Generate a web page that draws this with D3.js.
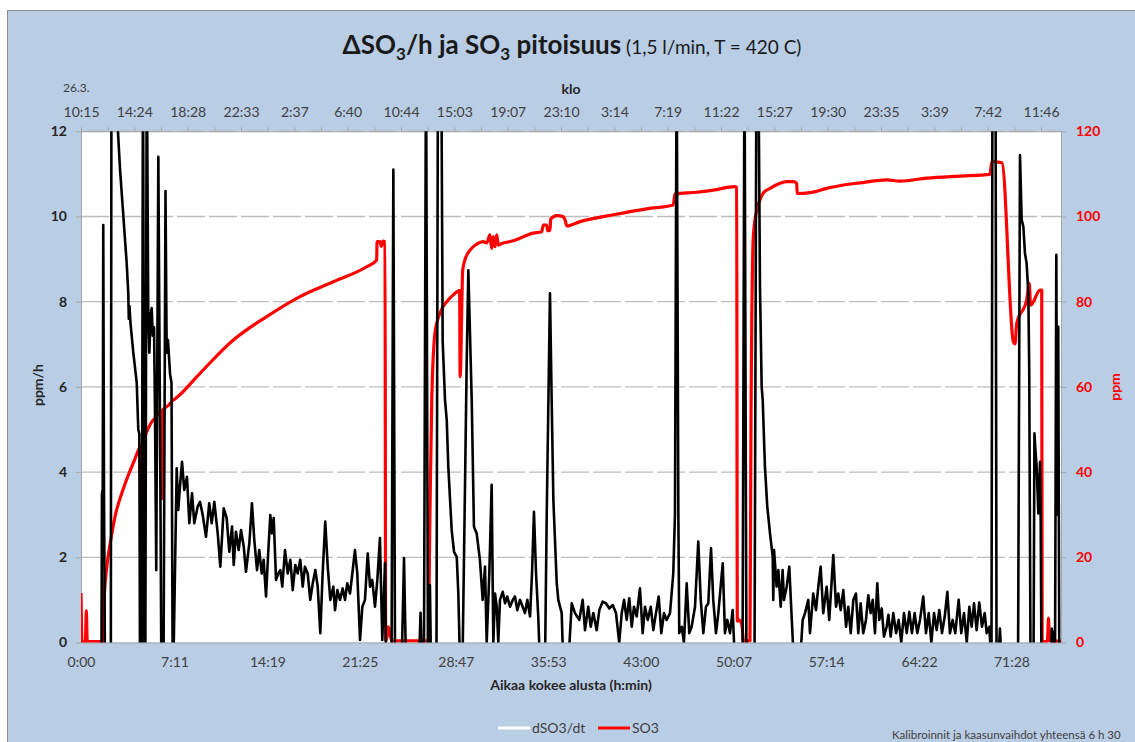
<!DOCTYPE html>
<html>
<head>
<meta charset="utf-8">
<script src="https://cdn.jsdelivr.net/npm/d3@7"></script>
<style>
  body { margin: 0; background: #fff; }
  svg { display: block; font-family: Lato, "Open Sans", sans-serif; }
</style>
</head>
<body>
<div class="grafico"></div>
<script>
// x axis labels (time since start, h:min) and clock labels on top
const bottomLabels = ["0:00", "7:11", "14:19", "21:25", "28:47", "35:53", "43:00", "50:07", "57:14", "64:22", "71:28"];
const topLabels = ["10:15", "14:24", "18:28", "22:33", "2:37", "6:40", "10:44", "15:03", "19:07", "23:10",
    "3:14", "7:19", "11:22", "15:27", "19:30", "23:35", "3:39", "7:42", "11:46"];
const leftTicks = [0, 2, 4, 6, 8, 10, 12];
const rightTicks = [0, 20, 40, 60, 80, 100, 120];

// SO3 concentration [hours, ppm]
const so3 = [
    [0, 11.6], [0.08, 0.2], [0.34, 0.2], [0.41, 7.5], [0.48, 0.2], [1.66, 0.2], [1.80, 11.5], [1.99, 18],
    [2.23, 23], [2.61, 29.5], [3.30, 36.5], [4.07, 42.5], [4.60, 46], [4.62, 13.5], [4.65, 46.2], [4.86, 48],
    [5.43, 51.8], [5.61, 52.4], [6.18, 54.3], [6.21, 33.8], [6.25, 54.5], [6.69, 55.6], [7.09, 56.9],
    [7.35, 57.5], [9.14, 63.2], [11.70, 71.0], [14.26, 76.5], [16.82, 81.2], [19.38, 84.7], [21.94, 88.2],
    [22.71, 89.8], [22.74, 94.1], [22.96, 94.1], [23.07, 93.0], [23.18, 94.2], [23.35, 94.1], [23.40, 0.5],
    [23.46, 0.5], [23.60, 3.7], [23.73, 2.0], [23.89, 0.4], [26.67, 0.4], [26.80, 30], [26.94, 56.9],
    [27.19, 72.7], [27.57, 77.3], [28.09, 80.0], [28.59, 81.6], [29.08, 82.6], [29.12, 62.4], [29.32, 87.4],
    [29.49, 89.8], [29.88, 92.1], [30.39, 93.5], [30.90, 94.1], [31.16, 93.8], [31.41, 95.7], [31.54, 92.5],
    [31.67, 95.3], [31.80, 92.9], [31.93, 95.7], [32.05, 93.3], [32.18, 93.5], [33.20, 94.3], [34.74, 96.1],
    [35.38, 96.4], [35.51, 98.0], [35.77, 98.0], [35.84, 96.7], [36.02, 96.8], [36.08, 99.4], [36.54, 100.2],
    [37.00, 100.0], [37.20, 99.0], [37.30, 97.8], [38.33, 98.8], [40.88, 100.4], [43.45, 101.8],
    [45.49, 102.7], [45.62, 105.3], [47.29, 105.7], [48.56, 106.2], [50.23, 107.0], [50.36, 106.8],
    [50.41, 5.0], [50.54, 5.3], [50.77, 4.0], [50.88, 0.4], [51.38, 0.4], [51.46, 52], [51.64, 95.3],
    [51.90, 101.5], [52.15, 103.9], [52.40, 105.5], [52.92, 106.6], [53.69, 107.8], [54.20, 108.2],
    [54.71, 108.2], [54.97, 107.8], [55.01, 105.4], [55.99, 105.6], [57.27, 106.6], [58.55, 107.4],
    [59.83, 107.9], [61.11, 108.4], [61.88, 108.6], [62.90, 108.3], [64.95, 109.0], [67.51, 109.5],
    [69.82, 109.9], [69.95, 112.9], [70.58, 112.7], [70.74, 112.6], [71.61, 70.6], [71.74, 70.1],
    [71.87, 74.9], [72.63, 80.4], [72.83, 84.3], [72.94, 79.2], [73.66, 82.7], [73.79, 82.7], [73.82, 0.5],
    [74.04, 0.2], [74.23, 0.3], [74.31, 5.7], [74.38, 0.5], [74.58, 0.3], [75.27, 0.3]
];

// dSO3/dt [hours, ppm/h]; values outside 0..12 run off the plot
const dso3 = [
    [0, -0.5], [1.57, -0.5], [1.61, 3.5], [1.67, 3.6], [1.71, 9.8], [1.77, 3.3], [1.84, -0.5],
    [2.29, -0.5], [2.34, 14], [2.73, 12.6], [3.00, 11.1], [3.51, 8.9], [3.63, 8.2], [3.67, 7.6], [3.72, 7.9],
    [3.80, 7.5], [4.02, 6.8], [4.28, 6.1], [4.40, 5.0], [4.48, 4.9], [4.53, -0.5],
    [4.67, -0.5], [4.76, 14], [4.88, -0.5], [4.94, -0.5], [5.05, 14], [5.17, 7.6], [5.25, 6.8], [5.35, 7.7],
    [5.43, 7.85], [5.51, 7.2], [5.61, 7.4], [5.68, 5.5], [5.78, 1.7], [5.85, 6.0], [5.94, 11.4], [6.09, 4.0],
    [6.17, -0.5], [6.34, -0.5], [6.49, 10.6], [6.58, 6.8], [6.68, 7.1], [6.84, 6.3], [6.95, 6.1],
    [7.04, -0.5], [7.10, -0.5],
    [7.35, 4.09], [7.47, 3.11], [7.60, 3.66], [7.76, 4.24], [7.93, 3.58], [8.14, 3.89], [8.32, 2.80],
    [8.53, 3.50], [8.70, 2.80], [8.96, 3.19], [9.14, 3.30], [9.35, 2.99], [9.60, 2.48], [9.85, 3.27],
    [10.04, 2.80], [10.24, 3.30], [10.50, 2.56], [10.70, 1.78], [10.96, 3.15], [11.19, 2.92], [11.39, 2.13],
    [11.60, 2.72], [11.73, 1.82], [11.90, 2.60], [12.11, 2.17], [12.29, 2.64], [12.50, 2.25], [12.67, 1.66],
    [12.93, 2.33], [13.13, 3.27], [13.31, 2.41], [13.52, 1.70], [13.69, 2.17], [13.88, 1.62], [14.03, 1.94],
    [14.21, 1.08], [14.39, 2.17], [14.54, 2.99], [14.67, 2.56], [14.80, 2.92], [14.98, 1.47], [15.15, 1.62],
    [15.31, 1.70], [15.46, 1.31], [15.67, 2.17], [15.88, 1.62], [16.08, 1.94], [16.26, 1.23], [16.46, 1.82],
    [16.64, 1.62], [16.84, 1.94], [17.03, 1.31], [17.20, 1.78], [17.41, 1.62], [17.61, 1.00], [17.80, 1.39],
    [18.00, 1.70], [18.18, 1.31], [18.38, 0.22], [18.56, 1.62], [18.76, 2.84], [18.95, 1.78], [19.15, 1.00],
    [19.38, 1.31], [19.51, 0.76], [19.69, 1.23], [19.89, 1.00], [20.10, 1.27], [20.28, 1.00], [20.45, 1.39],
    [20.66, 1.15], [20.84, 1.62], [21.04, 2.17], [21.22, 1.62], [21.43, 0.06], [21.61, 0.84], [21.81, 1.00],
    [22.02, 2.09], [22.20, 1.31], [22.37, 1.47], [22.58, 0.84], [22.76, 1.47], [22.96, 2.45], [23.14, 0.06],
    [23.35, 1.86], [23.43, -0.5],
    [23.85, -0.5], [23.99, 11.1], [24.12, -0.5], [24.63, -0.5], [24.81, 1.98], [24.96, -0.5], [25.96, -0.5],
    [26.08, 0.7], [26.19, -0.5], [26.34, -0.5], [26.50, 14], [26.65, -0.5], [26.75, -0.5], [26.80, 1.35],
    [26.88, -0.5], [27.30, -0.5], [27.42, 14], [27.57, 14], [27.70, 12], [27.78, 7.06], [27.96, 5.69],
    [28.09, 5.22], [28.21, 4.13], [28.47, 2.64], [28.65, 2.13], [28.86, 2.01], [28.98, 1.15], [29.11, -0.5],
    [29.30, -0.5], [29.49, 3.58], [29.62, 6.5], [29.75, 8.74], [30.01, 5.69], [30.18, 2.72], [30.39, 2.56],
    [30.64, 1.94], [30.85, 1.00], [31.03, 1.78], [31.16, 0], [31.36, 1.62], [31.54, 3.70], [31.67, 0],
    [31.80, 1.15], [31.93, 0.84], [32.05, 0], [32.18, 1.00], [32.39, 1.19], [32.57, 0.92], [32.74, 1.08],
    [32.95, 0.84], [33.16, 1.00], [33.33, 1.08], [33.51, 0.76], [33.72, 1.00], [33.92, 0.84], [34.10, 0.69],
    [34.28, 1.00], [34.49, 0.61], [34.64, 1.62], [34.79, 3.07], [34.95, 1.62], [35.12, 0.61], [35.25, -0.5],
    [35.64, -0.5], [35.77, 3], [36.02, 8.2], [36.15, 5.69], [36.28, 3.35], [36.54, 1.39], [36.66, 1.0],
    [36.92, 0.69], [37.04, -0.5], [37.43, -0.5], [37.69, 0.92], [37.94, 0.69], [38.27, 0.53], [38.53, 1.0],
    [38.71, 0.29], [38.96, 0.84], [39.15, 0.37], [39.35, 0.69], [39.61, 0.29], [39.81, 0.76], [40.07, 0.96],
    [40.32, 0.92], [40.58, 0.80], [40.84, 0.88], [41.09, 0.69], [41.34, 0], [41.53, 0.69], [41.71, 1.0],
    [41.91, 0.53], [42.11, 1.04], [42.30, 0.37], [42.47, 0.84], [42.68, 0.61], [42.93, 1.27], [43.14, 0.22],
    [43.32, 0.84], [43.53, 0.53], [43.76, 0.84], [43.96, 0.29], [44.16, 0.69], [44.37, 1.08], [44.57, 0.22],
    [44.78, 0.69], [44.98, 0.53], [45.24, 0.69], [45.49, 1.62], [45.62, 3], [45.75, 14], [45.88, 3],
    [45.95, 0.22], [46.14, 0.37], [46.31, 0], [46.52, 1.39], [46.72, 0.22], [46.90, 0.37], [47.16, 0.84],
    [47.41, 2.37], [47.60, 1.0], [47.80, 0.22], [48.00, 0.84], [48.18, 0.92], [48.39, 2.21], [48.56, 1.0],
    [48.77, 0.22], [48.95, 0.69], [49.13, 1.31], [49.29, 1.86], [49.46, 0.22], [49.64, 0.53], [49.85, 0.22],
    [50.05, 0.76], [50.23, -0.5], [50.81, -0.5], [50.96, 14], [51.11, -0.5], [51.73, -0.5], [51.88, 14],
    [52.02, 14], [52.15, 8.35], [52.28, 6.0], [52.36, 5.69], [52.53, 4.13], [52.71, 3.19], [52.92, 2.56],
    [53.13, 2.01], [53.17, 1.0], [53.23, 2.17], [53.43, 1.31], [53.56, 1.70], [53.74, 0.84], [53.89, 1.70],
    [53.99, 1.0], [54.20, 1.31], [54.40, 1.78], [54.58, 0.61], [54.76, -0.5], [55.22, -0.5], [55.43, 0.53],
    [55.61, 0.69], [55.86, 1.0], [55.99, 0.22], [56.24, 1.15], [56.45, 0.76], [56.63, 1.31], [56.81, 1.78],
    [57.01, 0.69], [57.27, 1.31], [57.47, 0.53], [57.78, 2.05], [57.99, 0.84], [58.16, 1.15], [58.35, 0.76],
    [58.55, 1.23], [58.76, 0.37], [58.93, 0.84], [59.12, 0.22], [59.32, 1.0], [59.52, 1.15], [59.70, 0.22],
    [59.88, 0.92], [60.08, 0.22], [60.29, 0.53], [60.47, 1.11], [60.65, 0.69], [60.81, 1.0], [60.98, 0.22],
    [61.16, 1.39], [61.31, 0.53], [61.50, 0.80], [61.67, 0.14], [61.88, 0.37], [62.01, 0.65], [62.19, 0.14],
    [62.39, 0.69], [62.60, 0.22], [62.80, 0.53], [63.00, 0], [63.21, 0.69], [63.42, 0.22], [63.62, 0.72],
    [63.82, 0.22], [64.03, 0.69], [64.23, 0.22], [64.44, 0.53], [64.69, 1.08], [64.90, 0.22], [65.11, 0.69],
    [65.31, 0], [65.52, 0.69], [65.72, 0.29], [65.92, 0.76], [66.13, 0.22], [66.34, 0.61], [66.54, 1.19],
    [66.74, 0.22], [66.95, 0.53], [67.15, 0.22], [67.41, 1.0], [67.61, 0.22], [67.82, 0.69], [68.03, 0],
    [68.23, 0.84], [68.41, 0.37], [68.59, 0.92], [68.79, 0.29], [68.99, 0.94], [69.20, 0.37], [69.41, 0.69],
    [69.56, 0.22], [69.76, 0.37], [69.93, -0.5], [70.01, 14], [70.24, 14], [70.32, -0.5], [70.45, -0.5],
    [70.58, 0.33], [70.71, -0.5], [71.97, -0.5], [72.12, 11.44], [72.25, 9.92], [72.38, 9.76], [72.50, 9.14],
    [72.63, 8.90], [72.76, 8.20], [72.83, 6.40], [72.93, -0.5], [73.16, -0.5], [73.23, 4.91], [73.31, 4.5],
    [73.40, 4.13], [73.53, 3.03], [73.66, 4.24], [73.71, 2.88], [73.77, -0.5], [74.50, -0.5], [74.56, 0.33],
    [74.65, 0.2], [74.81, -0.5], [74.91, 9.1], [74.98, 3], [75.06, 7.41], [75.14, -0.5], [75.27, -0.5]
];

const width = 1135, height = 742;
const plot = { left: 81, right: 1061, top: 131.3, bottom: 642.5 };

const svg = d3.select(".grafico")
    .append("svg")
    .attr("width", width)
    .attr("height", height);

// chart area background
svg.append("rect")
    .attr("x", 7.5).attr("y", 10.5)
    .attr("width", width).attr("height", height)
    .attr("fill", "#b9cde5")
    .attr("stroke", "#8c8c8c");

svg.append("rect")
    .attr("x", plot.left).attr("y", plot.top)
    .attr("width", plot.right - plot.left).attr("height", plot.bottom - plot.top)
    .attr("fill", "#fff");

const toHours = s => { const [h, m] = s.split(":").map(Number); return h + m / 60; };

const x = d3.scaleLinear().domain([0, 75.27]).range([plot.left, plot.right]);
const xTop = d3.scaleLinear().domain([0, 18.375]).range([plot.left, plot.right]);
const yL = d3.scaleLinear().domain([0, 12]).range([plot.bottom, plot.top]);
const yR = d3.scaleLinear().domain([0, 120]).range([plot.bottom, plot.top]);

// gridlines
svg.append("g")
    .selectAll("line")
    .data(leftTicks.slice(1))
    .enter().append("line")
    .attr("x1", plot.left).attr("x2", plot.right)
    .attr("y1", d => yL(d)).attr("y2", d => yL(d))
    .attr("stroke", "#bdbdbd")
    .attr("stroke-width", 1.3)
    .attr("stroke-dasharray", "28,4");

// axes
const gBottom = svg.append("g")
    .attr("transform", `translate(0,${plot.bottom})`)
    .call(d3.axisBottom(x)
        .tickValues(bottomLabels.map(toHours))
        .tickFormat((d, i) => bottomLabels[i])
        .tickSize(0).tickPadding(15));

const gTop = svg.append("g")
    .attr("transform", `translate(0,${plot.top})`)
    .call(d3.axisTop(xTop)
        .tickValues(d3.range(0, 18.01, 0.5))
        .tickFormat(d => Number.isInteger(d) ? topLabels[d] : "")
        .tickSize(4).tickSizeOuter(0).tickPadding(10));

const gLeft = svg.append("g")
    .attr("transform", `translate(${plot.left},0)`)
    .call(d3.axisLeft(yL).tickValues(leftTicks).tickSize(5).tickSizeOuter(0).tickPadding(9));

const gRight = svg.append("g")
    .attr("transform", `translate(${plot.right},0)`)
    .call(d3.axisRight(yR).tickValues(rightTicks).tickSize(5).tickSizeOuter(0).tickPadding(10));

[gBottom, gTop, gLeft, gRight].forEach(g => {
    g.select(".domain").attr("stroke", "#a6a6a6");
    g.selectAll(".tick line").attr("stroke", "#a6a6a6");
    g.selectAll("text").attr("font-family", "Lato, sans-serif").attr("font-size", 14).attr("fill", "#404040");
});
gLeft.selectAll("text").attr("font-weight", "bold").attr("fill", "#262626");
gRight.selectAll("text").attr("font-weight", "bold").attr("fill", "#ff0000");

// series, clipped to the plot area
svg.append("clipPath").attr("id", "clip")
    .append("rect")
    .attr("x", plot.left).attr("y", plot.top)
    .attr("width", plot.right - plot.left).attr("height", plot.bottom - plot.top);

const series = svg.append("g").attr("clip-path", "url(#clip)");

series.append("path")
    .datum(so3)
    .attr("fill", "none")
    .attr("stroke", "#ff0000")
    .attr("stroke-width", 3.2)
    .attr("stroke-linejoin", "round")
    .attr("d", d3.line().curve(d3.curveMonotoneX).x(d => x(d[0])).y(d => yR(d[1])));

series.append("path")
    .datum(dso3)
    .attr("fill", "none")
    .attr("stroke", "#000")
    .attr("stroke-width", 2.6)
    .attr("stroke-linejoin", "round")
    .attr("d", d3.line().x(d => x(d[0])).y(d => yL(d[1])));

// title
const title = svg.append("text")
    .attr("x", 572).attr("y", 54)
    .attr("text-anchor", "middle")
    .attr("fill", "#1a1a1a");
const big = 26, sub = 17;
[["ΔSO", big, 0], ["3", sub, 6], ["/h ja SO", big, -6], ["3", sub, 6], [" pitoisuus", big, -6]]
    .forEach(([t, s, dy]) => title.append("tspan")
        .attr("font-weight", "bold").attr("font-size", s).attr("dy", dy).text(t));
title.append("tspan").attr("font-size", 19).text(" (1,5 l/min, T = 420 C)");

svg.append("text").attr("x", 63).attr("y", 92)
    .attr("font-size", 12).attr("fill", "#404040").text("26.3.");
svg.append("text").attr("x", 571).attr("y", 94).attr("text-anchor", "middle")
    .attr("font-size", 14).attr("font-weight", "bold").attr("fill", "#262626").text("klo");

// axis titles
svg.append("text").attr("x", 571).attr("y", 690).attr("text-anchor", "middle")
    .attr("font-size", 14).attr("font-weight", "bold").attr("fill", "#262626")
    .text("Aikaa kokee alusta (h:min)");
svg.append("text").attr("transform", "translate(43,385) rotate(-90)").attr("text-anchor", "middle")
    .attr("font-size", 14).attr("font-weight", "bold").attr("fill", "#262626").text("ppm/h");
svg.append("text").attr("transform", "translate(1120,387) rotate(-90)").attr("text-anchor", "middle")
    .attr("font-size", 14).attr("font-weight", "bold").attr("fill", "#ff0000").text("ppm");

// legend
const legend = [{ name: "dSO3/dt", color: "#fff", x: 498 }, { name: "SO3", color: "#ff0000", x: 598 }];
legend.forEach(l => {
    svg.append("line").attr("x1", l.x).attr("x2", l.x + 32).attr("y1", 728).attr("y2", 728)
        .attr("stroke", l.color).attr("stroke-width", 3);
    svg.append("text").attr("x", l.x + 34).attr("y", 733)
        .attr("font-size", 14).attr("fill", "#404040").text(l.name);
});

svg.append("text").attr("x", 892).attr("y", 739)
    .attr("font-size", 11.5).attr("fill", "#404040")
    .text("Kalibroinnit ja kaasunvaihdot yhteensä 6 h 30");
</script>
</body>
</html>
